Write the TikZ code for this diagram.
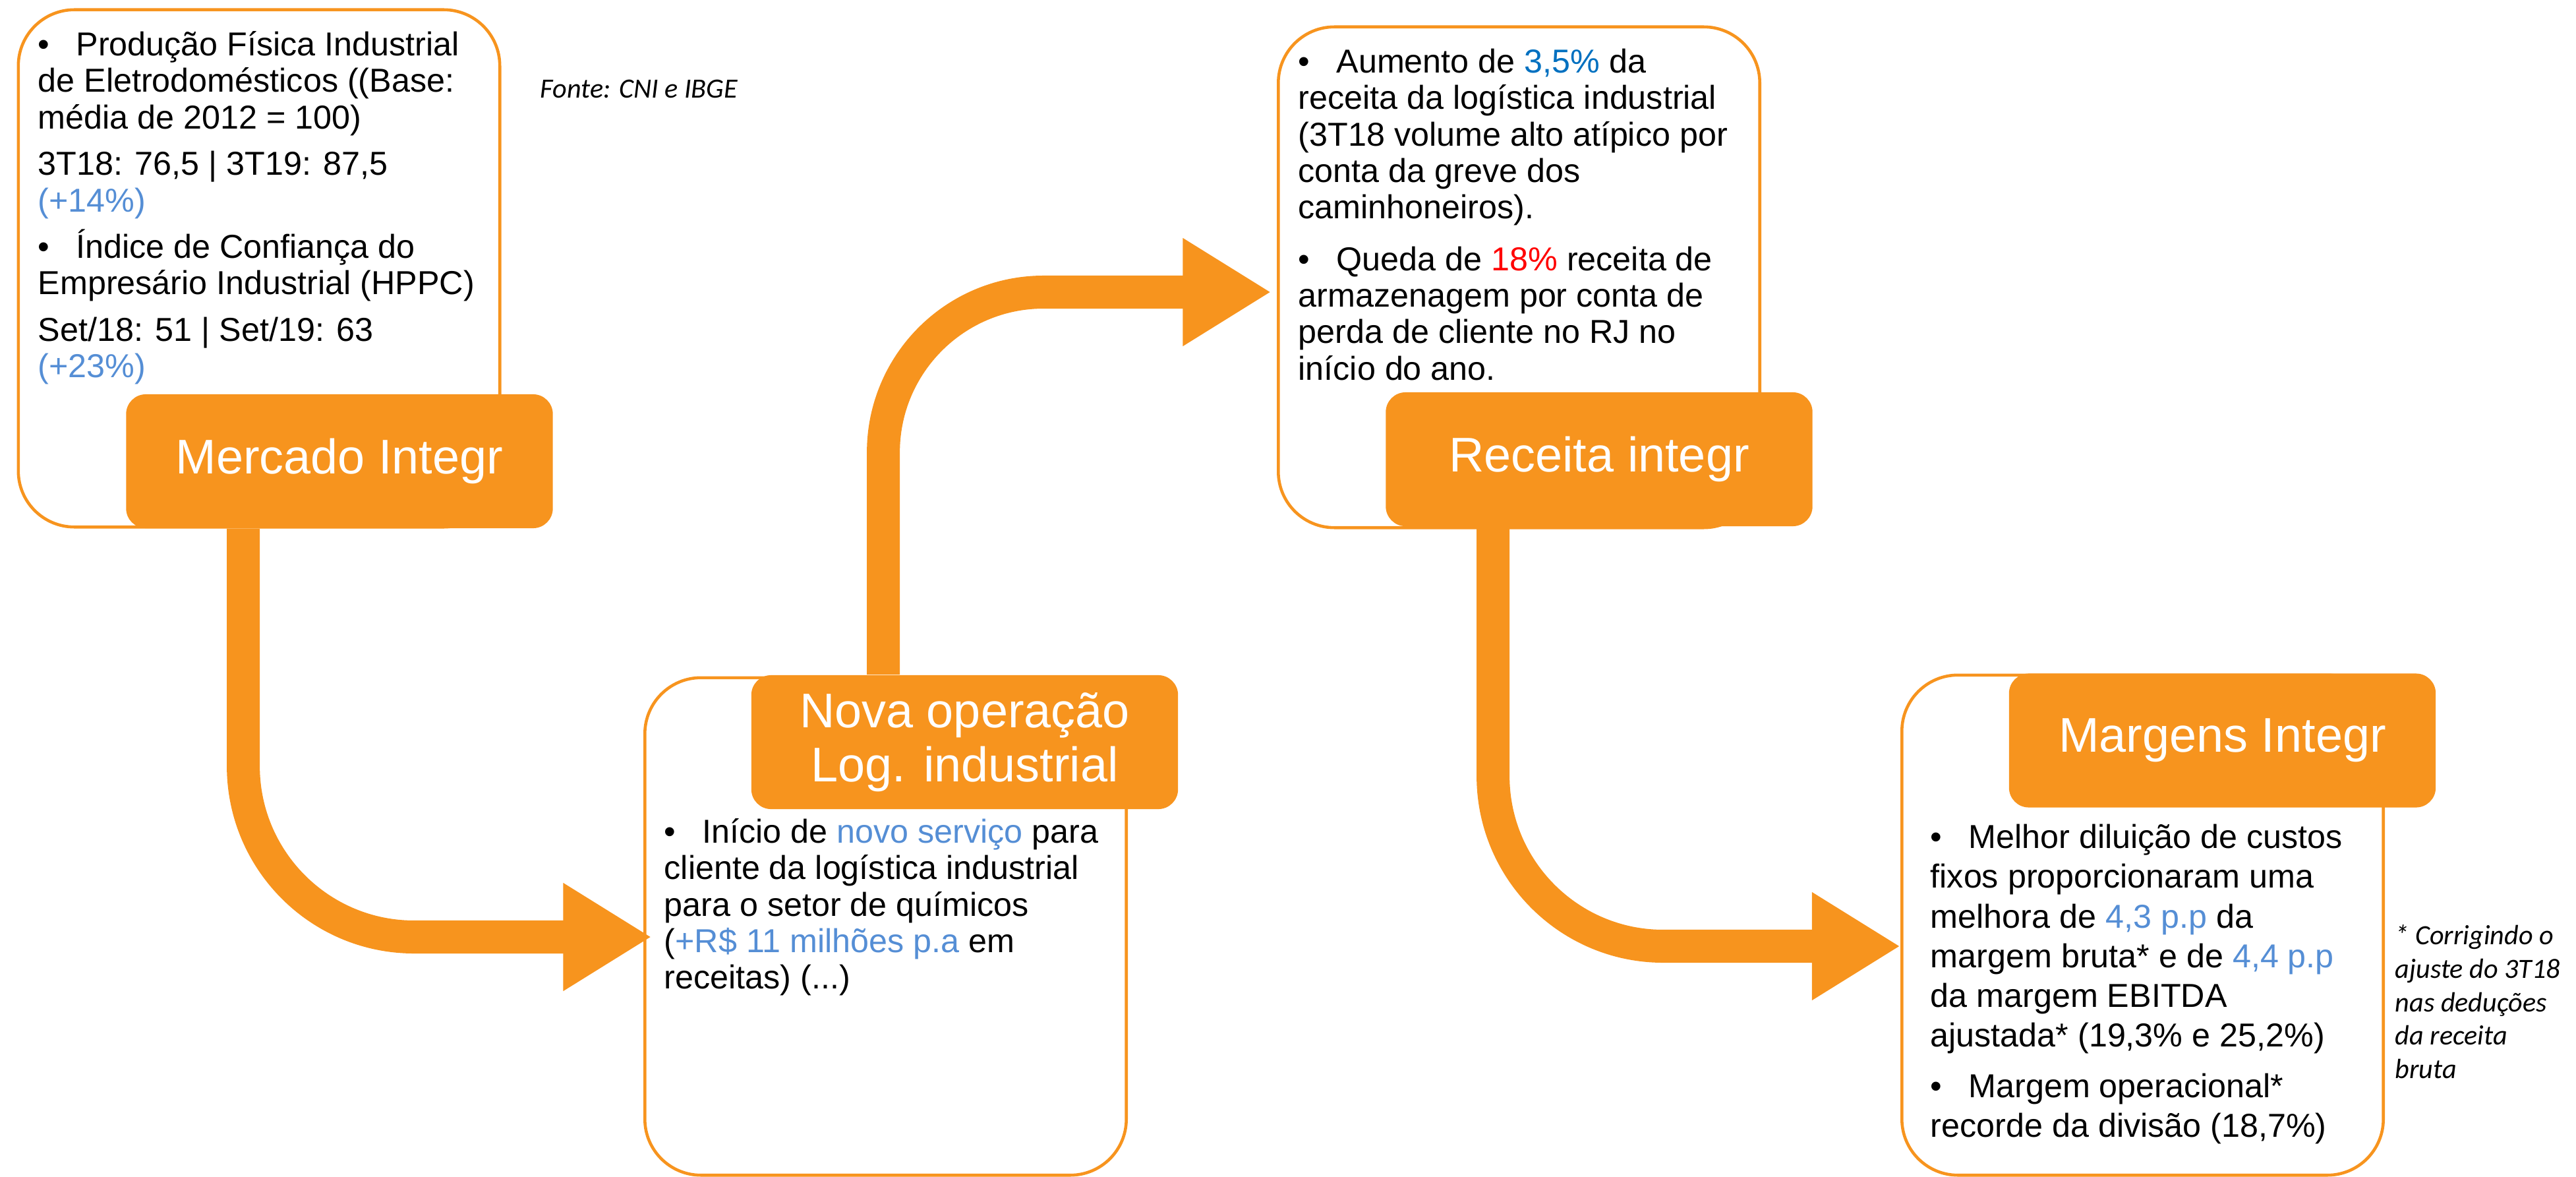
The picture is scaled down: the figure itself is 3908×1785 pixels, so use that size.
\documentclass[tikz,border=0pt]{standalone}
\usepackage{fontspec}
\setmainfont{Liberation Sans}
\newfontfamily\notefont{Carlito}
\usetikzlibrary{arrows.meta,calc}
\definecolor{orng}{RGB}{247,148,30}
\definecolor{lblue}{RGB}{85,142,213}
\definecolor{dblue}{RGB}{0,112,192}
\newcommand{\itembul}{\textbullet\hspace{0.8em}}
\newcommand{\blu}[1]{\textcolor{lblue}{#1}}

\begin{document}
\begin{tikzpicture}[
    x=0.01cm, y=-0.01cm,
    boxframe/.style={draw=orng, line width=1.3pt, rounded corners=0.85cm, minimum width=7.3cm, minimum height=#1, inner sep=0pt},
    tagbox/.style={fill=orng, rounded corners=0.3cm, minimum width=6.47cm, minimum height=2.03cm, inner sep=0pt, text=white, align=center, font=\fontsize{21}{23.3}\selectfont},
    bodytext/.style={anchor=north west, align=left, inner sep=0pt, font=\fontsize{14.3}{15.7}\selectfont},
    sidenote/.style={align=left, inner sep=0pt, font=\notefont\itshape\fontsize{12}{14.4}\selectfont},
    bigarrow/.style={draw=orng, line width=0.5cm, rounded corners=#1, -{Triangle[length=1.34cm, width=1.54cm]}}
  ]
  \useasboundingbox (0,0) rectangle (3908,1785);

  \node [boxframe=7.84cm] (boxA) at (393,407) {};
  \node [boxframe=7.54cm] (boxB) at (1343.5,1405) {};
  \node [boxframe=7.59cm] (boxC) at (2304.5,420.5) {};
  \node [boxframe=7.58cm] (boxD) at (3250.5,1403) {};

  \node [tagbox] (tagA) at (515,699.5) {Mercado Integr};
  \node [tagbox] (tagB) at (1463.5,1125.5) {Nova operação\\Log. industrial};
  \node [tagbox] (tagC) at (2426,696.5) {Receita integr};
  \node [tagbox] (tagD) at (3371.5,1123) {Margens Integr};

  \draw [bigarrow=2.59cm] ($(tagA.south west)+(178.5,0)$) |- ($(boxB.west)+(12.5,16)$);
  \draw [bigarrow=2.43cm] ($(tagB.north west)+(201,0)$) |- ($(boxC.west)+(-8.5,22.5)$);
  \draw [bigarrow=2.58cm] ($(tagC.south west)+(163.5,0)$) |- ($(boxD.west)+(0,32)$);

  \node [bodytext] (txtA) at (57,45.4) {\strut\itembul Produção Física Industrial\\
    de Eletrodomésticos ((Base:\\
    média de 2012 = 100)\\[4.4pt]
    3T18: 76,5 | 3T19: 87,5\\
    \blu{(+14\%)}\\[4.4pt]
    \itembul Índice de Confiança do\\
    Empresário Industrial (HPPC)\\[4.4pt]
    Set/18: 51 | Set/19: 63\\
    \blu{(+23\%)}};
  \node [bodytext] (txtB) at (1007,1239.4) {\strut\itembul Início de \blu{novo serviço} para\\
    cliente da logística industrial\\
    para o setor de químicos\\
    (\blu{+R\$ 11 milhões p.a} em\\
    receitas) (...)};
  \node [bodytext] (txtC) at (1969,71.4) {\strut\itembul Aumento de \textcolor{dblue}{3,5\%} da\\
    receita da logística industrial\\
    (3T18 volume alto atípico por\\
    conta da greve dos\\
    caminhoneiros).\\[6.7pt]
    \itembul Queda de \textcolor{red}{18\%} receita de\\
    armazenagem por conta de\\
    perda de cliente no RJ no\\
    início do ano.};
  \node [bodytext, font=\fontsize{14.3}{17.1}\selectfont] (txtD) at (2928,1244) {\strut\itembul Melhor diluição de custos\\
    fixos proporcionaram uma\\
    melhora de \blu{4,3 p.p} da\\
    margem bruta* e de \blu{4,4 p.p}\\
    da margem EBITDA\\
    ajustada* (19,3\% e 25,2\%)\\[4.8pt]
    \itembul Margem operacional*\\
    recorde da divisão (18,7\%)};

  \node [sidenote, anchor=base west] (fonte) at (819,149) {Fonte: CNI e IBGE};
  \node [sidenote, anchor=north west] (nota) at (3633,1396.6) {\strut* Corrigindo o\\
    ajuste do 3T18\\
    nas deduções\\
    da receita\\
    bruta};
\end{tikzpicture}
\end{document}
